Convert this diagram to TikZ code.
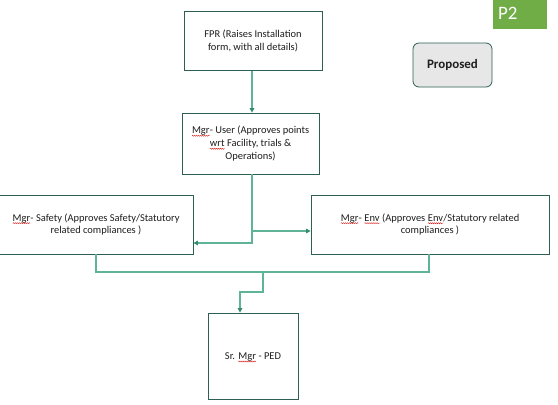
\documentclass[tikz,border=0pt]{standalone}
\usepackage{fontspec}
\setmainfont{Carlito}
\usetikzlibrary{arrows.meta,decorations.pathmorphing}
\definecolor{boxline}{RGB}{45,95,85}
\definecolor{conn}{RGB}{95,180,150}
\definecolor{tip}{RGB}{50,140,110}
\definecolor{ptwo}{RGB}{112,173,71}
\definecolor{propfill}{RGB}{231,231,231}
\definecolor{txt}{RGB}{30,30,30}
\definecolor{squigred}{RGB}{220,40,40}
\newcommand\redwave[1]{\smash{\tikz[baseline=(w.base)]{\node[inner sep=0pt, outer sep=0pt, draw=none, fill=none, text=txt, minimum width=0pt, minimum height=0pt](w){#1};\draw[draw=squigred, line width=0.45bp, decorate, decoration={snake, amplitude=0.55bp, segment length=2bp}] ([yshift=-2.2bp]w.base west) -- ([yshift=-2.2bp]w.base east);}}}
\tikzset{
  stepbox/.style={draw=boxline, line width=0.8bp, fill=white, align=center, font=\fontsize{10.5}{13}\selectfont, text=txt, inner sep=2bp},
  link/.style={draw=conn, line width=1.1bp},
  arrowlink/.style={link, -{Triangle[length=4.5bp,width=4.5bp,fill=tip,color=tip]}},
}
\begin{document}
\begin{tikzpicture}[x=1bp,y=-1bp]
\useasboundingbox (0,0) rectangle (558,404);
\fill[white] (0,0) rectangle (558,404);

\node[stepbox, minimum width=138bp, minimum height=59bp] (fpr) at (253,41) {FPR (Raises Installation\\form, with all details)};
\node[stepbox, minimum width=137bp, minimum height=61bp] (user) at (250.5,143.5) {\redwave{Mgr}- User (Approves points\\\redwave{wrt} Facility, trials \&\\Operations)};
\node[stepbox, minimum width=194bp, minimum height=59bp] (safety) at (96,224.5) {\redwave{Mgr}- Safety (Approves Safety/Statutory\\related compliances )};
\node[stepbox, minimum width=238bp, minimum height=59bp] (env) at (430,224.5) {\redwave{Mgr}- \redwave{Env} (Approves \redwave{Env}/Statutory related\\compliances )};
\node[stepbox, minimum width=90bp, minimum height=86bp] (ped) at (253,356) {Sr. \redwave{Mgr} - PED};

\node[fill=ptwo, minimum width=54bp, minimum height=29bp, inner sep=0pt] (p2box) at (520,14.5) {};
\node[anchor=west, text=white, font=\fontsize{19}{19}\selectfont, inner sep=0pt] (p2) at (498,13) {P2};
\node[draw=boxline, line width=0.8bp, fill=propfill, rounded corners=6bp, minimum width=79bp, minimum height=44bp, font=\bfseries\fontsize{13}{14}\selectfont, text=txt] (prop) at (452.5,65) {Proposed};

\coordinate (j1) at (252,243);
\coordinate (j2) at (252,231);
\coordinate (m1) at (96,272);
\coordinate (m2) at (429,272);
\coordinate (m3) at (263,272);
\coordinate (m4) at (263,292);
\coordinate (m5) at (240,292);

\draw[arrowlink] (fpr.south -| j1) -- (user.north -| j1);
\draw[arrowlink] (user.south -| j1) -- (j1) -- (j1 -| safety.east);
\draw[arrowlink] (j2) -- (j2 -| env.west);
\draw[link] (safety.south -| m1) -- (m1) -- (m2) -- (env.south -| m2);
\draw[arrowlink] (m3) -- (m4) -- (m5) -- (ped.north -| m5);
\end{tikzpicture}
\end{document}
